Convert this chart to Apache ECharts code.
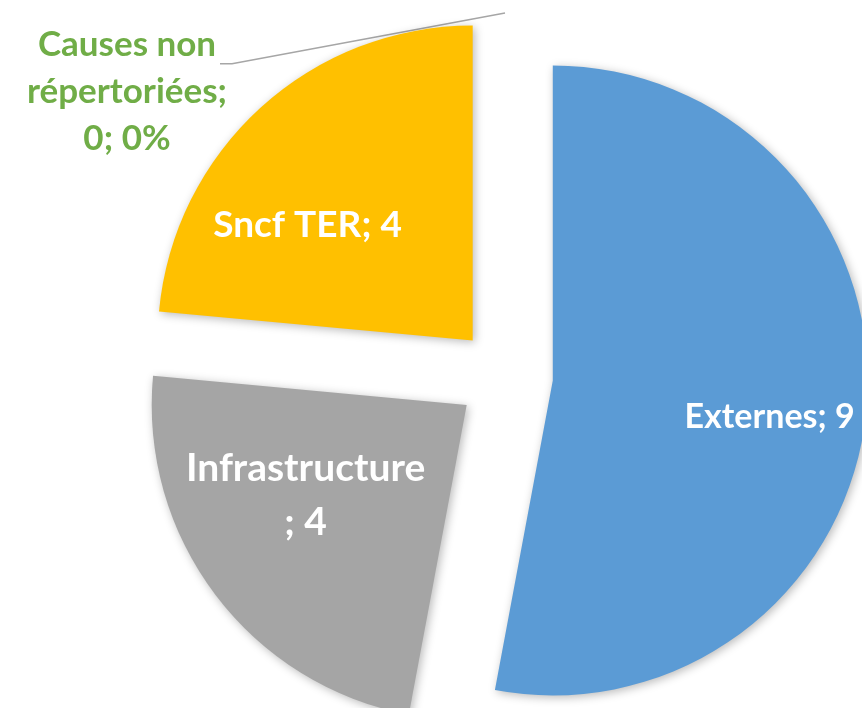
<!DOCTYPE html>
<html><head><meta charset="utf-8">
<script src="https://cdn.jsdelivr.net/npm/echarts@6/dist/echarts.min.js"></script>
<style>html,body{margin:0;padding:0;background:#fff}#c{width:862px;height:708px}</style>
</head><body><div id="c"></div>
<script>
// ---- data ----
const categories = ['Externes', 'Infrastructure', 'Sncf TER', 'Causes non répertoriées'];
const values = [9, 4, 4, 0];

// ---- style ----
const colors = ['#5B9BD5', '#A5A5A5', '#FFC000', '#70AD47'];
const FONT = 'Lato';
const PIE_CENTER = [505, 376];
const SEL_OFFSET = 48;
const labelFontSizes = [34, 39, 37, 35];
const labelShift = [[57, 22], [-33, -6], [-57, 3], [0, 0]];
const outsideLabelCenter = [127, 92];
const OUT_LINE_HEIGHT = 47;

function formatLabel(p) {
  if (p.dataIndex === 3) {
    const w = p.name.split(' ');
    return w[0] + ' ' + w[1] + '\n' + w.slice(2).join(' ') + ';\n' + p.value + '; ' + p.percent + '%';
  }
  if (p.dataIndex === 1) return p.name + '\n; ' + p.value;
  return p.name + '; ' + p.value;
}

const chart = echarts.init(document.getElementById('c'), null, {renderer: 'canvas'});
chart.setOption({
  animation: false,
  backgroundColor: '#ffffff',
  series: [{
    type: 'pie',
    center: PIE_CENTER,
    radius: [0, 315],
    startAngle: 90,
    clockwise: true,
    selectedMode: 'multiple',
    selectedOffset: SEL_OFFSET,
    avoidLabelOverlap: false,
    silent: true,
    itemStyle: {
      borderWidth: 0,
      shadowBlur: 10,
      shadowColor: 'rgba(0,0,0,0.28)',
      shadowOffsetX: 2,
      shadowOffsetY: 2
    },
    select: { itemStyle: { borderWidth: 0 } },
    label: {
      formatter: formatLabel,
      fontFamily: FONT,
      fontWeight: 'bold'
    },
    labelLine: {
      show: true,
      lineStyle: { color: '#A6A6A6', width: 1.5 },
      length: 20, length2: 10
    },
    data: categories.map((n, i) => ({
      name: n,
      value: values[i],
      selected: true,
      itemStyle: { color: colors[i] },
      label: i === 3
        ? { position: 'outside', color: colors[3], fontSize: labelFontSizes[i], lineHeight: OUT_LINE_HEIGHT }
        : { position: 'inside', color: '#ffffff', fontSize: labelFontSizes[i], lineHeight: i === 1 ? 54 : 40 },
      labelLine: { show: i === 3 }
    })),
    labelLayout: function (p) {
      const i = p.dataIndex;
      if (i !== 3) return { dx: labelShift[i][0], dy: labelShift[i][1] };
      const r = p.labelRect;
      const start = p.labelLinePoints ? p.labelLinePoints[0] : [PIE_CENTER[0], PIE_CENTER[1] - 315];
      // selection shift of this slice (local -> global)
      const vx = start[0] - PIE_CENTER[0], vy = start[1] - PIE_CENTER[1];
      const len = Math.sqrt(vx * vx + vy * vy) || 1;
      const sx = vx / len * SEL_OFFSET, sy = vy / len * SEL_OFFSET;
      // current anchor x of the label, depending on its alignment
      let anchorX = r.x + r.width / 2;
      if (p.align === 'right') anchorX = r.x + r.width;
      else if (p.align === 'left') anchorX = r.x;
      const cx = outsideLabelCenter[0], cy = outsideLabelCenter[1];
      const right = cx + r.width / 2;
      const top = cy - r.height / 2;
      const lineY = top + OUT_LINE_HEIGHT * 0.9;
      return {
        align: 'center',
        dx: cx - sx - anchorX,
        dy: cy - sy - (r.y + r.height / 2),
        labelLinePoints: [start, [right + 5 - sx, lineY - sy], [right - 7 - sx, lineY - sy]]
      };
    }
  }]
});
</script>
</body></html>
